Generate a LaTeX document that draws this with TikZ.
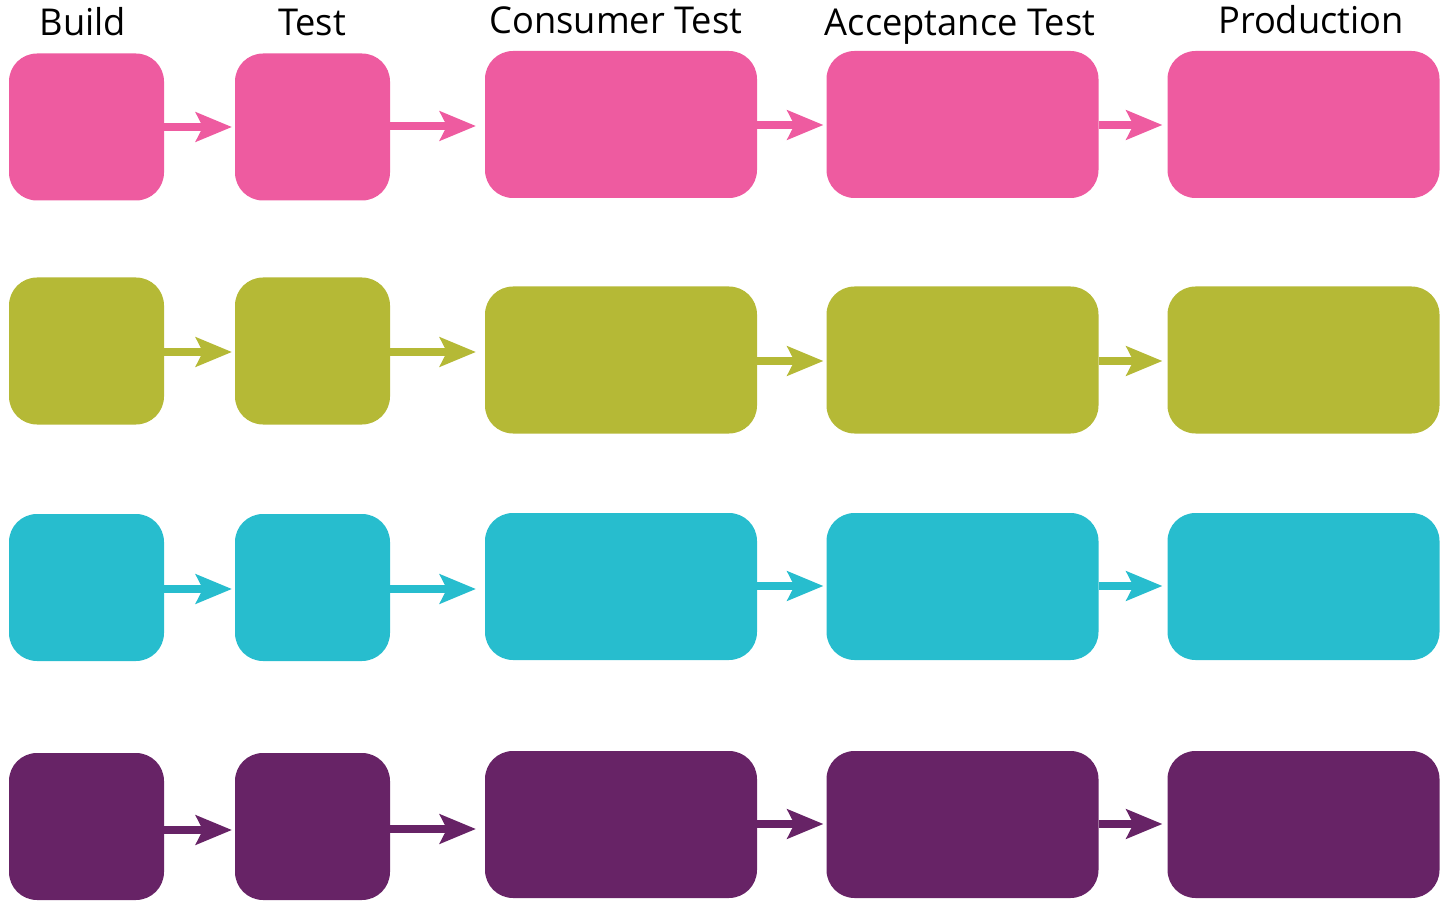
\documentclass[tikz,border=0pt]{standalone}
\usepackage{fontspec}
\setmainfont{Open Sans}[FakeStretch=0.98]
\usetikzlibrary{arrows.meta}
\definecolor{cpink}{HTML}{EE5BA0}
\definecolor{colive}{HTML}{B5B936}
\definecolor{ccyan}{HTML}{27BDCE}
\definecolor{cpurple}{HTML}{672366}
\tikzset{
  box/.style={draw=none, fill=#1, rounded corners=28pt, inner sep=0pt, outer sep=0pt},
  small/.style={minimum width=155pt, minimum height=147pt},
  large/.style={minimum width=272pt, minimum height=147pt},
  arr/.style={draw=#1, line width=8pt, -{Stealth[length=36pt,width=29pt,inset=7pt]}, shorten >=3pt},
  lab/.style={anchor=base, font=\fontsize{37}{40}\selectfont, inner sep=0pt, text=black}
}
\begin{document}
\begin{tikzpicture}[x=1pt,y=-1pt]
\useasboundingbox (0,0) rectangle (1441,901);
% labels
\node[lab] (l1) at (83,36) {Build};
\node[lab] (l2) at (312,36) {Test};
\node[lab] (l3) at (616,34) {Consumer Test};
\node[lab] (l4) at (960,36) {Acceptance Test};
\node[lab] (l5) at (1311,34) {Production};
% row 1
\node[box=cpink, small] (a1) at (86.5,127) {};
\node[box=cpink, small] (a2) at (312.5,127) {};
\node[box=cpink, large] (a3) at (621,124.5) {};
\node[box=cpink, large] (a4) at (962.5,124.5) {};
\node[box=cpink, large] (a5) at (1303.5,124.5) {};
\draw[arr=cpink] (a1.east |- 0,127) -- (a2.west |- 0,127);
\draw[arr=cpink, shorten >=9pt] (a2.east |- 0,126) -- (a3.west |- 0,126);
\draw[arr=cpink] (a3.east |- 0,125) -- (a4.west |- 0,125);
\draw[arr=cpink, shorten >=5pt] (a4.east |- 0,125) -- (a5.west |- 0,125);
% row 2
\node[box=colive, small] (b1) at (86.5,351) {};
\node[box=colive, small] (b2) at (312.5,351) {};
\node[box=colive, large] (b3) at (621,360) {};
\node[box=colive, large] (b4) at (962.5,360) {};
\node[box=colive, large] (b5) at (1303.5,360) {};
\draw[arr=colive] (b1.east |- 0,352) -- (b2.west |- 0,352);
\draw[arr=colive, shorten >=9pt] (b2.east |- 0,352) -- (b3.west |- 0,352);
\draw[arr=colive] (b3.east |- 0,361) -- (b4.west |- 0,361);
\draw[arr=colive, shorten >=5pt] (b4.east |- 0,361) -- (b5.west |- 0,361);
% row 3
\node[box=ccyan, small] (c1) at (86.5,587.5) {};
\node[box=ccyan, small] (c2) at (312.5,587.5) {};
\node[box=ccyan, large] (c3) at (621,586.5) {};
\node[box=ccyan, large] (c4) at (962.5,586.5) {};
\node[box=ccyan, large] (c5) at (1303.5,586.5) {};
\draw[arr=ccyan] (c1.east |- 0,589) -- (c2.west |- 0,589);
\draw[arr=ccyan, shorten >=9pt] (c2.east |- 0,589) -- (c3.west |- 0,589);
\draw[arr=ccyan] (c3.east |- 0,586) -- (c4.west |- 0,586);
\draw[arr=ccyan, shorten >=5pt] (c4.east |- 0,586) -- (c5.west |- 0,586);
% row 4
\node[box=cpurple, small] (d1) at (86.5,826.5) {};
\node[box=cpurple, small] (d2) at (312.5,826.5) {};
\node[box=cpurple, large] (d3) at (621,824.5) {};
\node[box=cpurple, large] (d4) at (962.5,824.5) {};
\node[box=cpurple, large] (d5) at (1303.5,824.5) {};
\draw[arr=cpurple] (d1.east |- 0,830) -- (d2.west |- 0,830);
\draw[arr=cpurple, shorten >=9pt] (d2.east |- 0,829) -- (d3.west |- 0,829);
\draw[arr=cpurple] (d3.east |- 0,824) -- (d4.west |- 0,824);
\draw[arr=cpurple, shorten >=5pt] (d4.east |- 0,824) -- (d5.west |- 0,824);
\end{tikzpicture}
\end{document}
